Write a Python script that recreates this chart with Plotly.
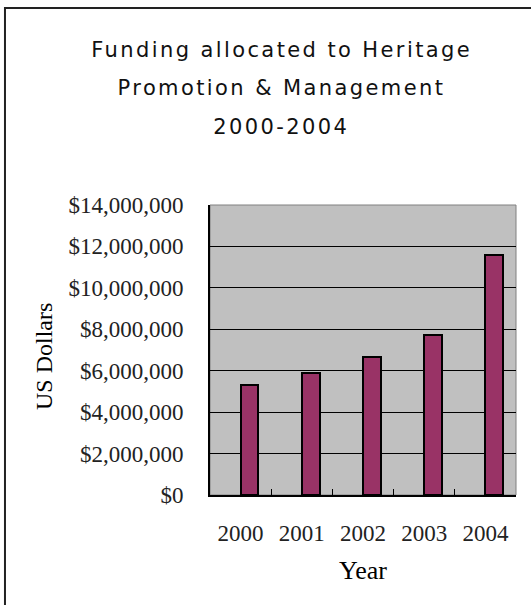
import plotly.graph_objects as go

years = ["2000", "2001", "2002", "2003", "2004"]
funding = [5310000, 5890000, 6680000, 7730000, 11590000]
title_lines = [
    "Funding allocated to Heritage",
    "Promotion & Management",
    "2000-2004",
]

serif = "Liberation Serif, Times New Roman, serif"
sans = "DejaVu Sans, Verdana, sans-serif"

fig = go.Figure(
    go.Bar(
        x=years,
        y=funding,
        width=0.29,
        offset=0.0,
        marker=dict(color="#993366", line=dict(color="black", width=2)),
    )
)

# frame around the whole chart (runs off the right and bottom edge)
fig.add_shape(
    type="rect", xref="paper", yref="paper",
    x0=-0.67, x1=1.3, y0=-0.6, y1=1.679,
    line=dict(color="#222222", width=2), layer="below",
)
# plot area border
fig.add_shape(
    type="rect", xref="paper", yref="paper",
    x0=0, x1=1, y0=0, y1=1,
    line=dict(color="#808080", width=1), layer="below",
)

for i, line in enumerate(title_lines):
    fig.add_annotation(
        text=line, xref="paper", yref="paper",
        x=(281 - 210) / 306, y=(495 - (50 + 38.5 * i)) / 290,
        xanchor="center", yanchor="middle", showarrow=False,
        font=dict(family=sans, size=21, color="#111111"),
    )

fig.add_annotation(
    text="US Dollars", xref="paper", yref="paper",
    x=(44 - 210) / 306, y=(495 - 357) / 290,
    xanchor="center", yanchor="middle", textangle=-90, showarrow=False,
    font=dict(family=serif, size=24, color="black"),
)
fig.add_annotation(
    text="Year", xref="paper", yref="paper",
    x=0.5, y=(495 - 570) / 290,
    xanchor="center", yanchor="middle", showarrow=False,
    font=dict(family=serif, size=26, color="black"),
)

fig.update_layout(
    width=531,
    height=605,
    margin=dict(l=210, r=15, t=205, b=110),
    paper_bgcolor="white",
    plot_bgcolor="#C0C0C0",
    showlegend=False,
    bargap=0,
)
fig.update_xaxes(
    type="category",
    showline=True, linecolor="black", linewidth=2,
    ticks="inside", tickson="boundaries", ticklen=6, tickcolor="black",
    showgrid=False,
    tickfont=dict(family=serif, size=23, color="#222222"),
    ticklabelstandoff=16,
)
fig.update_yaxes(
    range=[0, 14000000], dtick=2000000,
    tickprefix="$", tickformat=",d",
    showline=True, linecolor="black", linewidth=2,
    ticks="inside", ticklen=6, tickcolor="black",
    showgrid=True, gridcolor="black", gridwidth=1,
    zeroline=False,
    tickfont=dict(family=serif, size=23, color="#222222"),
    ticklabelstandoff=20,
)

# no page margin, and the wide letter spacing of the title lines
page_js = """
document.body.style.margin = '0';
var st = document.createElement('style');
st.textContent = '.annotation[data-index="0"] text, .annotation[data-index="1"] text,'
  + ' .annotation[data-index="2"] text { letter-spacing: 2.4px; }';
document.head.appendChild(st);
"""

fig.write_html("out.html", config={"displayModeBar": False}, post_script=page_js)
